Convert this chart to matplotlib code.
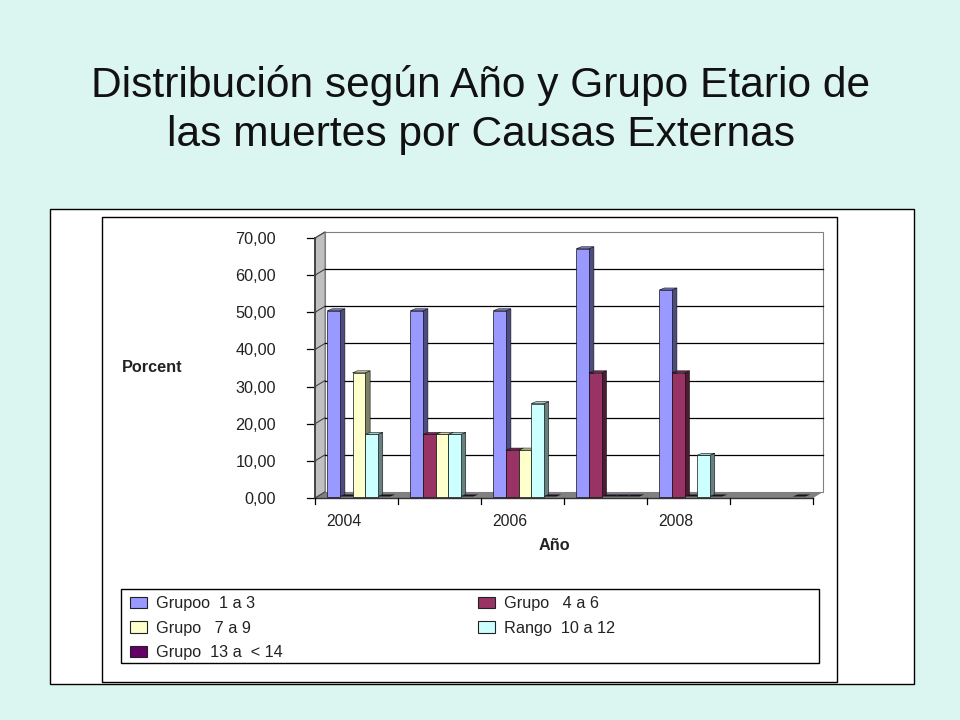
import matplotlib
matplotlib.use("Agg")
import matplotlib.pyplot as plt
from matplotlib.patches import Polygon, Rectangle, Patch
from matplotlib.transforms import Affine2D

plt.rcParams['font.family'] = ['Liberation Sans', 'DejaVu Sans']

title = "Distribución según Año y Grupo Etario de\nlas muertes por Causas Externas"
categories = ["2004", "", "2006", "", "2008", ""]
series_names = ["Grupoo  1 a 3", "Grupo   4 a 6", "Grupo   7 a 9", "Rango  10 a 12", "Grupo  13 a  < 14"]
g1_3 = [50.0, 50.0, 50.0, 66.7, 55.6, None]
g4_6 = [0.0, 16.7, 12.5, 33.3, 33.3, None]
g7_9 = [33.3, 16.7, 12.5, 0.0, 0.0, None]
g10_12 = [16.7, 16.7, 25.0, 0.0, 11.1, None]
g13_14 = [0.0, 0.0, 0.0, 0.0, 0.0, 0.0]
series = [g1_3, g4_6, g7_9, g10_12, g13_14]
yticks = [0, 10, 20, 30, 40, 50, 60, 70]

front = ["#9999FF", "#993366", "#FFFFCC", "#CCFFFF", "#660066"]
side = ["#4C4C80", "#4D1A33", "#808066", "#668080", "#330033"]
top = ["#7A7ACC", "#7A2952", "#CCCCA3", "#A3CCCC", "#520052"]

W, H = 960, 720
BG = "#DBF5F0"
FS = 11.7
TC = "#222222"
fig = plt.figure(figsize=(9.6, 7.2), dpi=100, facecolor=BG)

def fx(px): return px / W
def fy(py): return 1 - py / H

def frame(x0, y0, x1, y1, fc="white", z=0, lw=1.0):
    fig.add_artist(Rectangle((fx(x0), fy(y1)), fx(x1) - fx(x0), fy(y0) - fy(y1),
                             transform=fig.transFigure, fc=fc, ec="black", lw=lw, zorder=z))

frame(50, 209, 914, 684, z=-3)
frame(102, 217, 837, 682, z=-2)

fig.text(fx(481), fy(110), title, ha="center", va="center", fontsize=30.6, color="#111111", linespacing=1.31)

ax = fig.add_axes([fx(315), fy(498), fx(813) - fx(315), fy(238) - fy(498)], facecolor="none", zorder=1)
ax.set_xlim(0, len(categories))
ax.set_ylim(0, 70)
for s in ["top", "right", "bottom"]:
    ax.spines[s].set_visible(False)
ax.spines["left"].set_linewidth(1.4)
ax.spines["left"].set_color("#444444")
ax.spines["left"].set_zorder(1.16)
ax.set_yticks(yticks)
ax.set_yticklabels([f"{v:.2f}".replace(".", ",") for v in yticks], fontsize=FS, color=TC)
ax.tick_params(axis="y", length=0, pad=28)
ax.set_xticks([])

T = ax.transData
def disp(x, y, ox=0, oy=0):
    a, b = T.transform((x, y))
    return (a + ox, b + oy)

def poly(pts, fc, ec="none", lw=0.0, z=1):
    ax.add_patch(Polygon(pts, closed=True, transform=None, fc=fc, ec=ec, lw=lw, zorder=z, clip_on=False))

nc = len(categories)
WX, WY = 10, 6
# walls and floor
poly([disp(0, 0), disp(0, 70), disp(0, 70, WX, WY), disp(0, 0, WX, WY)], "#C0C0C0", "#808080", 0.8, 1)
poly([disp(0, 70, WX, WY), disp(nc, 70, WX, WY), disp(nc, 0, WX, WY), disp(0, 0, WX, WY)], "white", "#808080", 0.8, 1)
poly([disp(0, 0), disp(nc, 0), disp(nc, 0, WX, WY), disp(0, 0, WX, WY)], "#808080", "none", 0, 1.1)
# gridlines on the back wall and wall ticks
for v in yticks[1:-1]:
    ax.plot(*zip(disp(0, v, WX, WY), disp(nc, v, WX, WY)), transform=None, color="black", lw=0.9, zorder=1.2, clip_on=False)
for v in yticks:
    ax.plot(*zip(disp(0, v), disp(0, v, WX, WY)), transform=None, color="#444444", lw=0.8, zorder=1.15, clip_on=False)
    ax.plot(*zip(disp(0, v), disp(0, v, -8, 0)), transform=None, color="black", lw=0.9, zorder=1.15, clip_on=False)
# category axis
ax.plot(*zip(disp(0, 0), disp(nc, 0)), transform=None, color="#333333", lw=1.0, zorder=1.3, clip_on=False)
for i in range(nc + 1):
    ax.plot(*zip(disp(i, 0), disp(i, 0, 0, -6)), transform=None, color="black", lw=0.9, zorder=1.3, clip_on=False)
for i, c in enumerate(categories):
    ax.text(i + 0.5, 0, c, transform=T + Affine2D().translate(-12.5, -28),
            ha="center", va="baseline", fontsize=FS * 0.97, color=TC)

# bars
BW = 0.152
DX, DY = 5, 2
OX, OY = 0, 1.5
G0 = 0.148
for i in range(nc):
    for j, vals in enumerate(series):
        v = vals[i]
        if v is None:
            continue
        x0 = i + G0 + j * BW
        x1 = x0 + BW
        z = 2 + i + j * 0.1
        if v <= 0:
            poly([disp(x0, 0, OX, OY), disp(x1, 0, OX, OY), disp(x1, 0, OX + DX, OY + DY), disp(x0, 0, OX + DX, OY + DY)],
                 "#1A1020", z=z)
            continue
        poly([disp(x1, 0, OX, OY), disp(x1, v, OX, OY), disp(x1, v, OX + DX, OY + DY), disp(x1, 0, OX + DX, OY + DY)], side[j], "#111111", 0.4, z)
        poly([disp(x0, v, OX, OY), disp(x1, v, OX, OY), disp(x1, v, OX + DX, OY + DY), disp(x0, v, OX + DX, OY + DY)], top[j], "#111111", 0.4, z)
        poly([disp(x0, 0, OX, OY), disp(x1, 0, OX, OY), disp(x1, v, OX, OY), disp(x0, v, OX, OY)], front[j], "#111111", 0.5, z + 0.01)

fig.text(fx(152.5), fy(368), "Porcent", ha="center", va="center", fontsize=FS, fontweight="bold", color=TC)
fig.text(fx(554), fy(546), "Año", ha="center", va="center", fontsize=FS, fontweight="bold", color=TC)

# legend
frame(121, 589, 819, 663, z=-1)
order = [0, 2, 4, 1, 3]
handles = [Patch(facecolor=front[k], edgecolor="#222222", linewidth=0.8, label=series_names[k]) for k in order]
fig.legend(handles=handles, loc="upper left", bbox_to_anchor=(fx(122), fy(588)), ncol=2, frameon=False,
           fontsize=FS, handlelength=1.05, handleheight=0.68, handletextpad=0.55, labelspacing=0.595,
           columnspacing=12.0, borderpad=0.49, borderaxespad=0, labelcolor=TC)

fig.savefig("out.png", dpi=100, facecolor=BG)
